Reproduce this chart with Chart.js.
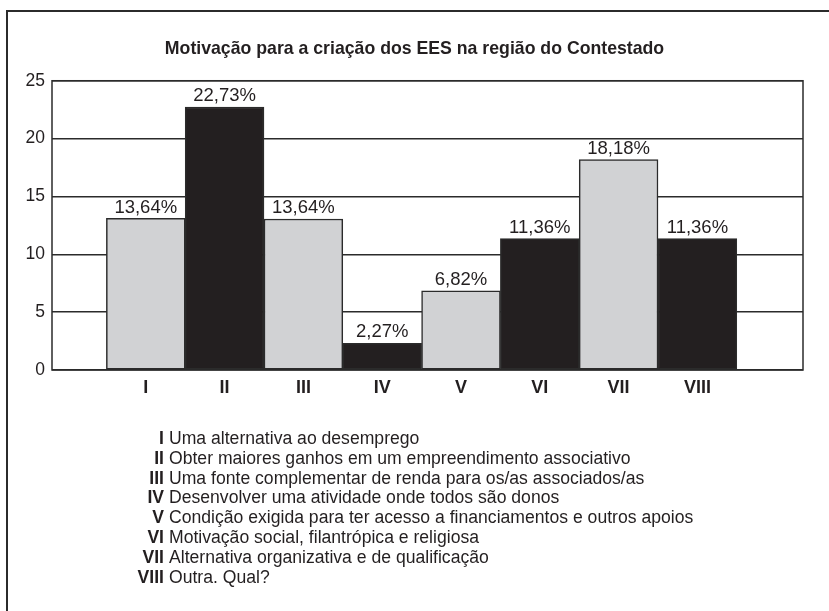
<!DOCTYPE html>
<html>
<head>
<meta charset="utf-8">
<script src="https://cdn.jsdelivr.net/npm/chart.js@4/dist/chart.umd.min.js"></script>
<style>
  html, body { margin: 0; padding: 0; background: #fff; }
  body { width: 829px; height: 611px; position: relative; overflow: hidden; font-family: "Liberation Sans", Arial, sans-serif; color: #231f20; }
  #frame { position: absolute; left: 6px; top: 10px; right: -10px; bottom: -10px; border-top: 2px solid #2b2b2b; border-left: 2px solid #2b2b2b; }
  #wrap { position: absolute; left: 0; top: 0; width: 829px; height: 611px; }
  #legend { position: absolute; left: 0; top: 429px; font-size: 17.6px; line-height: 19.8px; }
  .row { white-space: nowrap; }
  .num { display: inline-block; width: 164px; text-align: right; font-weight: bold; padding-right: 5px; box-sizing: content-box; }
</style>
</head>
<body>
<div id="frame"></div>
<div id="wrap"><canvas id="c" width="829" height="611"></canvas></div>
<div id="legend"></div>
<script>
const categories = ["I", "II", "III", "IV", "V", "VI", "VII", "VIII"];
const values = [13.1, 22.73, 13.05, 2.3, 6.85, 11.36, 18.18, 11.36];
const valueLabels = ["13,64%", "22,73%", "13,64%", "2,27%", "6,82%", "11,36%", "18,18%", "11,36%"];
const barColors = ["#d1d2d4", "#231f20", "#d1d2d4", "#231f20", "#d1d2d4", "#231f20", "#d1d2d4", "#231f20"];
const yTicks = [0, 5, 10, 15, 20, 25];
const descriptions = [
  "Uma alternativa ao desemprego",
  "Obter maiores ganhos em um empreendimento associativo",
  "Uma fonte complementar de renda para os/as associados/as",
  "Desenvolver uma atividade onde todos são donos",
  "Condição exigida para ter acesso a financiamentos e outros apoios",
  "Motivação social, filantrópica e religiosa",
  "Alternativa organizativa e de qualificação",
  "Outra. Qual?"
];
const titleText = "Motivação para a criação dos EES na região do Contestado";

const legend = document.getElementById('legend');
categories.forEach((c, i) => {
  const r = document.createElement('div');
  r.className = 'row';
  const n = document.createElement('span');
  n.className = 'num';
  n.textContent = c;
  r.appendChild(n);
  r.appendChild(document.createTextNode(descriptions[i]));
  legend.appendChild(r);
});

const ink = '#231f20';
const fam = '"Liberation Sans", Arial, sans-serif';

const frameBox = {
  id: 'frameBox',
  afterDatasetsDraw(chart) {
    const { ctx, chartArea: a } = chart;
    ctx.save();
    ctx.strokeStyle = '#2b2b2b';
    ctx.lineWidth = 1.5;
    ctx.strokeRect(a.left, a.top, a.right - a.left, a.bottom - a.top);
    ctx.restore();
  }
};

const barLabels = {
  id: 'barLabels',
  afterDatasetsDraw(chart) {
    const { ctx } = chart;
    const meta = chart.getDatasetMeta(0);
    ctx.save();
    ctx.font = '18.5px ' + fam;
    ctx.fillStyle = ink;
    ctx.textAlign = 'center';
    ctx.textBaseline = 'middle';
    meta.data.forEach((el, i) => {
      ctx.fillText(valueLabels[i], el.x, el.y - 11);
    });
    ctx.restore();
  }
};

new Chart(document.getElementById('c'), {
  type: 'bar',
  data: {
    datasets: [{
      data: categories.map((c, i) => ({ x: i + 1, y: values[i] })),
      backgroundColor: barColors,
      borderColor: '#2b2b2b',
      borderWidth: 1.5,
      borderSkipped: false,
      categoryPercentage: 1,
      barPercentage: 1
    }]
  },
  options: {
    responsive: false,
    animation: false,
    devicePixelRatio: 1,
    layout: { padding: { left: 0, right: 0, top: 0, bottom: 211 } },
    plugins: {
      legend: { display: false },
      tooltip: { enabled: false },
      title: {
        display: true,
        text: titleText,
        color: ink,
        font: { family: fam, size: 17.7, weight: 'bold', lineHeight: 1.2 },
        padding: { top: 38, bottom: 21.5 }
      }
    },
    scales: {
      x: {
        type: 'linear',
        offset: false,
        min: -0.19,
        max: 9.34,
        grid: { display: false, drawTicks: false },
        border: { display: false },
        afterBuildTicks(scale) { scale.ticks = categories.map((c, i) => ({ value: i + 1 })); },
        afterFit(scale) { scale.height = 30; },
        ticks: {
          autoSkip: false,
          maxRotation: 0,
          padding: 7,
          color: ink,
          font: { family: fam, size: 18, weight: 'bold' },
          callback: (v) => categories[v - 1] || ''
        }
      },
      y: {
        min: 0,
        max: 25,
        afterBuildTicks(scale) { scale.ticks = yTicks.map(v => ({ value: v })); },
        afterFit(scale) { scale.width = 52; },
        grid: { color: '#2b2b2b', lineWidth: 1.5, drawTicks: false },
        border: { display: false },
        ticks: {
          padding: 7,
          color: ink,
          font: { family: fam, size: 17.5 }
        }
      },
      yRight: {
        position: 'right',
        min: 0,
        max: 25,
        grid: { display: false, drawTicks: false },
        border: { display: false },
        ticks: { display: false },
        afterFit(scale) { scale.width = 26; }
      }
    }
  },
  plugins: [frameBox, barLabels]
});
</script>
</body>
</html>
